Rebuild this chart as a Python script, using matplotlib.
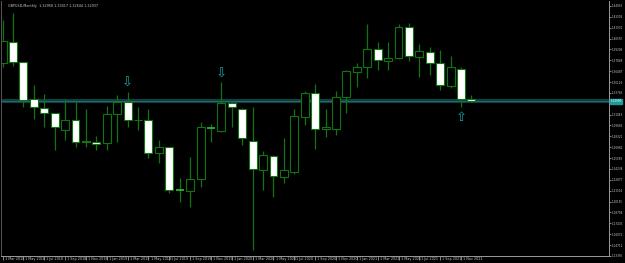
import matplotlib
matplotlib.use("Agg")
import matplotlib.pyplot as plt
import matplotlib.transforms as mtransforms
import numpy as np

title = "GBPUSD,Monthly  1.32958 1.33017 1.32644 1.32937"

# monthly candles, Mar 2018 .. Dec 2021
opens = [1.3751, 1.4014, 1.3763, 1.3300, 1.3187, 1.3125, 1.2912, 1.3037, 1.2768, 1.2762,
         1.2749, 1.3112, 1.3262, 1.3037, 1.3037, 1.2624, 1.2699, 1.2161, 1.2148, 1.2298,
         1.2937, 1.2899, 1.3250, 1.3175, 1.2774, 1.2411, 1.2586, 1.2323, 1.2386, 1.3075,
         1.3375, 1.2924, 1.2924, 1.3325, 1.3638, 1.3701, 1.3926, 1.3776, 1.3813, 1.4202,
         1.3826, 1.3889, 1.3751, 1.3463, 1.3676, 1.3300]
highs = [1.4289, 1.4377, 1.3763, 1.3475, 1.3363, 1.3125, 1.3300, 1.3262, 1.3175, 1.2837,
         1.3212, 1.3350, 1.3388, 1.3200, 1.3175, 1.2787, 1.2699, 1.2311, 1.2574, 1.3012,
         1.2987, 1.3513, 1.3262, 1.3187, 1.3200, 1.2649, 1.2599, 1.2812, 1.3175, 1.3400,
         1.3488, 1.3175, 1.3400, 1.3663, 1.3751, 1.4239, 1.4014, 1.4014, 1.4239, 1.4252,
         1.3989, 1.3951, 1.3914, 1.3839, 1.3701, 1.3350]
lows = [1.3701, 1.3713, 1.3200, 1.3050, 1.2949, 1.2661, 1.2787, 1.2699, 1.2699, 1.2661,
        1.2661, 1.2762, 1.2949, 1.2912, 1.2561, 1.2499, 1.2123, 1.2010, 1.1948, 1.2198,
        1.2762, 1.2887, 1.2949, 1.2724, 1.1409, 1.2161, 1.2073, 1.2248, 1.2361, 1.2974,
        1.2674, 1.2824, 1.2849, 1.3125, 1.3450, 1.3563, 1.3663, 1.3663, 1.3801, 1.3776,
        1.3576, 1.3601, 1.3413, 1.3438, 1.3200, 1.3262]
closes = [1.4026, 1.3763, 1.3288, 1.3200, 1.3125, 1.2949, 1.3037, 1.2762, 1.2756, 1.2737,
          1.3112, 1.3262, 1.3037, 1.3031, 1.2624, 1.2699, 1.2161, 1.2161, 1.2298, 1.2949,
          1.2937, 1.3250, 1.3200, 1.2812, 1.2423, 1.2599, 1.2336, 1.2411, 1.3087, 1.3375,
          1.2924, 1.2949, 1.3325, 1.3651, 1.3701, 1.3926, 1.3788, 1.3813, 1.4202, 1.3839,
          1.3901, 1.3751, 1.3475, 1.3701, 1.3300, 1.3269]

# fractal arrows: candle index, price, direction
arrow_idx = [12, 21, 44]
arrow_price = [1.3500, 1.3607, 1.3068]
arrow_dir = ['down', 'down', 'up']

month_labels = ['1 Mar 2018', '1 May 2018', '1 Jul 2018', '1 Sep 2018', '1 Nov 2018',
                '1 Jan 2019', '1 Mar 2019', '1 May 2019', '1 Jul 2019', '1 Sep 2019',
                '1 Nov 2019', '1 Jan 2020', '1 Mar 2020', '1 May 2020', '1 Jul 2020',
                '1 Sep 2020', '1 Nov 2020', '1 Jan 2021', '1 Mar 2021', '1 May 2021',
                '1 Jul 2021', '1 Sep 2021', '1 Nov 2021']
price_ticks = [1.13350, 1.14711, 1.16072, 1.17433, 1.18794, 1.20155, 1.21516, 1.22877,
               1.24238, 1.25599, 1.26960, 1.28321, 1.29682, 1.31043, 1.33765, 1.35126,
               1.36487, 1.37848, 1.39209, 1.40570, 1.41931, 1.43292, 1.44653]

bg = 'black'
wick_col = '#127312'
doji_col = '#2fc12f'
axis_col = '#9a9a9a'
text_col = '#c8c8c8'
arrow_col = '#1aa3a3'
fs = 2.4
fs_y = 2.0

fig = plt.figure(figsize=(6.25, 2.63), dpi=100, facecolor=bg)
ax = fig.add_axes([0.0016, 0.0266, 0.9728, 0.9696], facecolor=bg)

x = np.arange(len(opens))
o = np.array(opens)
c = np.array(closes)
h = np.array(highs)
l = np.array(lows)

ax.vlines(x, l, h, color=wick_col, lw=0.9, zorder=1)

bull = c > o + 0.0003
bear = c < o - 0.0003
doji = ~(bull | bear)
ax.bar(x[bull], (c - o)[bull], bottom=o[bull], width=0.76, color='black',
       edgecolor=wick_col, linewidth=0.8, zorder=2)
ax.bar(x[bear], (o - c)[bear], bottom=c[bear], width=0.76, color='white',
       edgecolor=wick_col, linewidth=0.8, zorder=2)
ax.hlines((o + c)[doji] / 2, x[doji] - 0.38, x[doji] + 0.38, color=doji_col, lw=1.2, zorder=2)

# current price line
last = closes[-1]
ax.axhline(last, color='#0f3f3f', lw=3.0, zorder=0.5)
ax.axhline(last, color='#2a7272', lw=0.6, zorder=0.6)

for i, p, d in zip(arrow_idx, arrow_price, arrow_dir):
    ax.text(i, p, '\u21e9' if d == 'down' else '\u21e7', color=arrow_col, fontsize=9.5,
            ha='center', va='center', zorder=3)

ax.set_xlim(-0.15, 58.2)
ax.set_ylim(1.1334, 1.4527)

ax.set_xticks(np.arange(0, 2 * len(month_labels), 2))
ax.set_xticklabels(month_labels)
ax.set_yticks(price_ticks)
ax.set_yticklabels([f'{v:.5f}' for v in price_ticks])
ax.yaxis.tick_right()
ax.tick_params(axis='x', colors=axis_col, labelcolor=text_col, labelsize=fs,
               length=3, width=0.6, pad=-2.4, direction='out')
ax.tick_params(axis='y', colors=axis_col, labelcolor=text_col, labelsize=fs_y,
               length=1.5, width=0.6, pad=0.6)
off = mtransforms.ScaledTranslation(1.5 / 72, 0, fig.dpi_scale_trans)
for lab in ax.get_xticklabels():
    lab.set_horizontalalignment('left')
    lab.set_transform(lab.get_transform() + off)

ax.spines['top'].set_visible(False)
ax.spines['right'].set_color(axis_col)
ax.spines['bottom'].set_color(axis_col)
ax.spines['left'].set_color('#555555')
for s in ['right', 'bottom', 'left']:
    ax.spines[s].set_linewidth(0.7)

# price label on the axis
ax.annotate(f'{last:.5f}', xy=(1.0, last), xycoords=('axes fraction', 'data'),
            xytext=(1.0, 0), textcoords='offset points', ha='left', va='center',
            fontsize=fs_y, color='white',
            bbox=dict(boxstyle='square,pad=0.3', fc='#1a9a9a', ec='#1a9a9a'))

ax.text(0.012, 0.988, title, transform=ax.transAxes, ha='left', va='top',
        fontsize=fs, color=text_col)

fig.savefig('out.png', dpi=100, facecolor=bg)
